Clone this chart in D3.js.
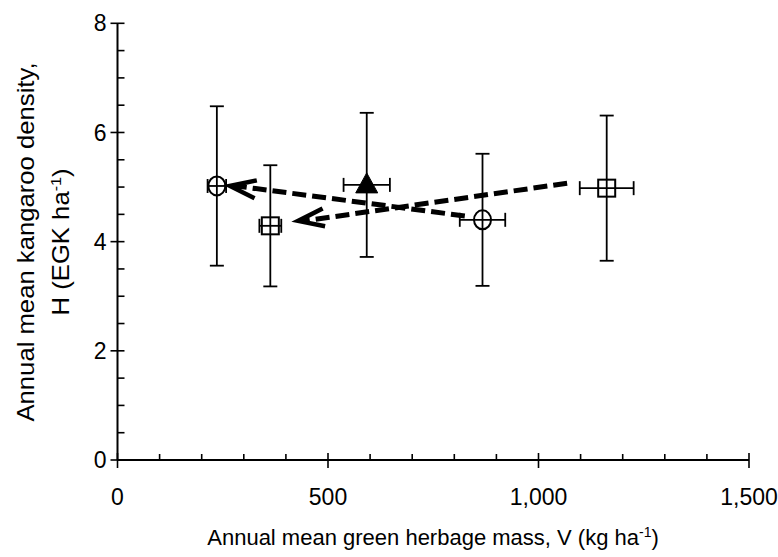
<!DOCTYPE html>
<html>
<head>
<meta charset="utf-8">
<script src="https://cdn.jsdelivr.net/npm/d3@7"></script>
<style>
  html, body { margin: 0; padding: 0; background: #fff; }
  svg { display: block; font-family: "Liberation Sans", Arial, sans-serif; }
</style>
</head>
<body>
<svg id="chart" width="778" height="557"></svg>
<script>
// Annual means: green herbage mass (x) vs kangaroo density (y), with SE bars
const herbage     = [236, 363, 592, 867, 1162];
const herbageErr  = [22, 26, 55, 54, 64];
const density     = [5.02, 4.29, 5.04, 4.40, 4.98];
const densityErr  = [1.46, 1.11, 1.32, 1.21, 1.33];
const symbols     = ["circle", "square", "triangle", "circle", "square"];

// Trajectories between years (tail -> head)
const arrowFromX = [825, 1068];
const arrowFromY = [4.47, 5.07];
const arrowToX   = [267, 429];
const arrowToY   = [5.02, 4.38];

const xTicks = [0, 500, 1000, 1500];
const yTicks = [0, 2, 4, 6, 8];

const svg = d3.select("#chart");
const plotLeft = 117.5, plotRight = 749, plotTop = 23.3, plotBottom = 460;

const x = d3.scaleLinear().domain([0, 1500]).range([plotLeft, plotRight]);
const y = d3.scaleLinear().domain([0, 8]).range([plotBottom, plotTop]);

const axisColor = "#000";
const g = svg.append("g");

// X axis
const xAxis = g.append("g").attr("transform", `translate(0,${plotBottom})`);
xAxis.append("line").attr("x1", x(0)).attr("x2", x(1500)).attr("stroke", axisColor).attr("stroke-width", 2);
xAxis.selectAll(".minor").data(d3.range(0, 1501, 100).filter(v => v % 500 !== 0))
  .join("line").attr("x1", d => x(d)).attr("x2", d => x(d)).attr("y1", 0).attr("y2", -6)
  .attr("stroke", axisColor).attr("stroke-width", 1.6);
xAxis.selectAll(".major").data(xTicks)
  .join("line").attr("x1", d => x(d)).attr("x2", d => x(d)).attr("y1", -7).attr("y2", 8)
  .attr("stroke", axisColor).attr("stroke-width", 1.6);
xAxis.selectAll("text").data(xTicks).join("text")
  .attr("x", d => x(d)).attr("y", 45).attr("text-anchor", "middle")
  .attr("font-size", 23).attr("fill", "#000")
  .text(d => d3.format(",")(d));

// Y axis
const yAxis = g.append("g").attr("transform", `translate(${plotLeft},0)`);
yAxis.append("line").attr("y1", y(0)).attr("y2", y(8)).attr("stroke", axisColor).attr("stroke-width", 2);
yAxis.selectAll(".minor").data(d3.range(0.5, 8, 0.5).filter(v => v % 2 !== 0))
  .join("line").attr("y1", d => y(d)).attr("y2", d => y(d)).attr("x1", 0).attr("x2", 7)
  .attr("stroke", axisColor).attr("stroke-width", 1.6);
yAxis.selectAll(".major").data(yTicks)
  .join("line").attr("y1", d => y(d)).attr("y2", d => y(d)).attr("x1", -7).attr("x2", 7)
  .attr("stroke", axisColor).attr("stroke-width", 1.6);
yAxis.selectAll("text").data(yTicks).join("text")
  .attr("x", -11).attr("y", d => y(d)).attr("dy", "0.35em").attr("text-anchor", "end")
  .attr("font-size", 23).attr("fill", "#000")
  .text(d => d);

// Axis titles
const xTitle = svg.append("text").attr("x", 433).attr("y", 545).attr("text-anchor", "middle")
  .attr("font-size", 22).attr("fill", "#000");
xTitle.append("tspan").text("Annual mean green herbage mass, V (kg ha");
xTitle.append("tspan").attr("dy", -8).attr("font-size", 14).text("-1");
xTitle.append("tspan").attr("dy", 8).text(")");

// y title is set slightly wider along its baseline
const yTitle = svg.append("g").attr("transform", "translate(0,242) rotate(-90) scale(1.07,1)");
yTitle.append("text").attr("x", 0).attr("y", 34).attr("text-anchor", "middle")
  .attr("font-size", 24).attr("fill", "#000").text("Annual mean kangaroo density,");
const yt2 = yTitle.append("text").attr("x", 0).attr("y", 69).attr("text-anchor", "middle")
  .attr("font-size", 24).attr("fill", "#000");
yt2.append("tspan").text("H (EGK ha");
yt2.append("tspan").attr("dy", -8).attr("font-size", 15).text("-1");
yt2.append("tspan").attr("dy", 8).text(")");

// Error bars
const pts = herbage.map((v, i) => ({x: v, xe: herbageErr[i], y: density[i], ye: densityErr[i], s: symbols[i]}));
const eb = svg.append("g").attr("stroke", "#000").attr("stroke-width", 1.8).attr("fill", "none");
const cap = 7;
pts.forEach(p => {
  const cx = x(p.x), cy = y(p.y);
  eb.append("line").attr("x1", cx).attr("x2", cx).attr("y1", y(p.y - p.ye)).attr("y2", y(p.y + p.ye));
  eb.append("line").attr("x1", cx - cap).attr("x2", cx + cap).attr("y1", y(p.y + p.ye)).attr("y2", y(p.y + p.ye));
  eb.append("line").attr("x1", cx - cap).attr("x2", cx + cap).attr("y1", y(p.y - p.ye)).attr("y2", y(p.y - p.ye));
  eb.append("line").attr("x1", x(p.x - p.xe)).attr("x2", x(p.x + p.xe)).attr("y1", cy).attr("y2", cy);
  eb.append("line").attr("x1", x(p.x - p.xe)).attr("x2", x(p.x - p.xe)).attr("y1", cy - cap).attr("y2", cy + cap);
  eb.append("line").attr("x1", x(p.x + p.xe)).attr("x2", x(p.x + p.xe)).attr("y1", cy - cap).attr("y2", cy + cap);
});

// Trajectory arrows (dashed shaft + open head)
const arrows = svg.append("g").attr("stroke", "#000").attr("fill", "none");
arrowFromX.forEach((fx, i) => {
  const x0 = x(fx), y0 = y(arrowFromY[i]), x1 = x(arrowToX[i]), y1 = y(arrowToY[i]);
  arrows.append("line").attr("x1", x0).attr("y1", y0).attr("x2", x1 + 6).attr("y2", y1)
    .attr("stroke-width", 5).attr("stroke-dasharray", "14,6");
  const ang = Math.atan2(y0 - y1, x0 - x1);
  const len = 26, hw = 9;
  const ux = Math.cos(ang), uy = Math.sin(ang);
  const bx = x1 + ux * len, by = y1 + uy * len;
  const p1 = [bx - uy * hw, by + ux * hw], p2 = [bx + uy * hw, by - ux * hw];
  arrows.append("path")
    .attr("d", `M${p1[0]},${p1[1]} L${x1},${y1} L${p2[0]},${p2[1]}`)
    .attr("stroke-width", 4.5).attr("stroke-linejoin", "miter").attr("stroke-linecap", "butt");
});

// Markers
const mk = svg.append("g");
pts.forEach(p => {
  const cx = x(p.x), cy = y(p.y);
  if (p.s === "circle") {
    mk.append("ellipse").attr("cx", cx).attr("cy", cy).attr("rx", 8.5).attr("ry", 9.5)
      .attr("fill", "none").attr("stroke", "#000").attr("stroke-width", 2);
  } else if (p.s === "square") {
    mk.append("rect").attr("x", cx - 8.5).attr("y", cy - 8.5).attr("width", 17).attr("height", 17)
      .attr("fill", "none").attr("stroke", "#000").attr("stroke-width", 2);
  } else {
    mk.append("path").attr("d", `M${cx},${cy - 12} L${cx + 11},${cy + 8} L${cx - 11},${cy + 8} Z`)
      .attr("fill", "#000").attr("stroke", "#000").attr("stroke-width", 1);
  }
});
</script>
</body>
</html>
